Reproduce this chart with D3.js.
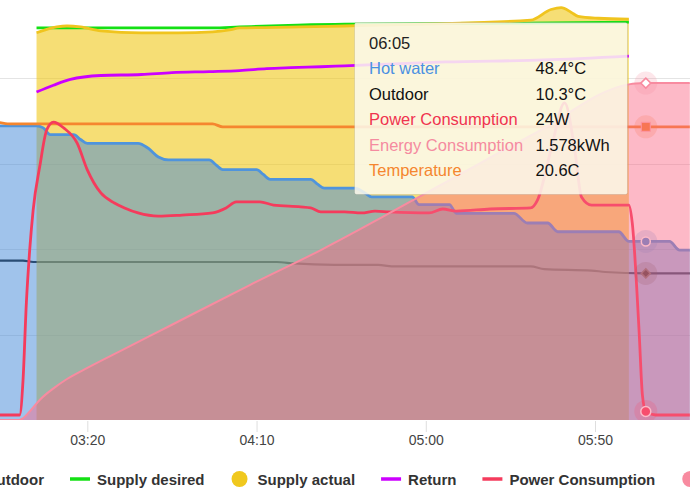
<!DOCTYPE html>
<html><head><meta charset="utf-8">
<script src="https://cdn.jsdelivr.net/npm/d3@7"></script>
<style>
html,body{margin:0;padding:0;background:#fff;}
svg{display:block;font-family:"Liberation Sans",Arial,Helvetica,sans-serif;}
</style></head><body>
<svg id="c" width="690" height="496"></svg>
<script>
// ---------- DATA ----------
const hotWater = [["02:54",60.3],["03:05",60.3],["03:07",60.1],["03:09",59.4],["03:16",59.4],["03:18",58.9],["03:20",58.5],["03:35",58.5],["03:38",58.0],["03:41",57.1],["03:44",56.8],["03:56",56.8],["03:58",56.3],["04:00",55.8],["04:10",55.8],["04:12",55.3],["04:14",54.8],["04:26",54.8],["04:28",54.3],["04:30",53.9],["04:39",53.9],["04:42",53.4],["04:44",53.0],["04:56",53.0],["04:58",52.2],["05:07",52.2],["05:09",51.3],["05:26",51.3],["05:30",50.3],["05:36",50.3],["05:39",49.4],["05:57",49.4],["06:00",48.4],["06:05",48.4],["06:12",48.4],["06:15",47.5],["06:18",47.5]];
const outdoor = [["02:54",11.2],["03:01",11.2],["03:04",11.1],["04:16",11.1],["04:21",11.0],["04:33",10.9],["04:46",10.9],["04:50",10.8],["05:31",10.8],["05:35",10.6],["05:49",10.5],["05:53",10.4],["06:05",10.3],["06:18",10.3]];
const supplyDesired = [["03:05",70.4],["03:57",70.4],["04:05",70.5],["04:22",70.7],["04:36",70.8],["05:30",70.9],["06:00",71.0]];
const supplyActual = [["03:05",69.9],["03:11",70.5],["03:14",70.6],["03:18",70.5],["03:24",70.1],["03:36",69.9],["03:47",69.9],["03:57",70.0],["04:02",70.2],["04:05",70.4],["04:23",70.5],["04:36",70.6],["05:00",70.8],["05:31",71.2],["05:37",72.3],["05:40",72.5],["05:43",72.0],["05:45",71.6],["05:51",71.4],["06:00",71.3]];
const returnTemp = [["03:05",63.8],["03:10",64.5],["03:15",65.1],["03:24",65.5],["03:36",65.6],["03:45",65.8],["03:56",65.9],["04:05",66.0],["04:13",66.2],["04:20",66.3],["04:29",66.4],["04:36",66.5],["05:06",66.9],["05:35",67.1],["06:00",67.5]];
const power = [["02:54",14],["03:00",14],["03:01",110],["03:02",330],["03:03",480],["03:04",590],["03:06",715],["03:08",815],["03:10",837],["03:13",821],["03:17",778],["03:20",703],["03:24",638],["03:28",610],["03:31",596],["03:35",582],["03:41",573],["03:48",576],["03:57",582],["04:01",596],["04:04",613],["04:11",613],["04:15",604],["04:23",599],["04:26",596],["04:29",585],["04:36",585],["04:41",582],["04:45",587],["04:49",585],["05:01",582],["05:05",593],["05:09",587],["05:19",593],["05:31",596],["05:33",618],["05:37",760],["05:41",891],["05:44",760],["05:46",627],["05:49",604],["06:00",604],["06:01",554],["06:03",253],["06:04",70],["06:05",24],["06:08",14],["06:18",14]];
const energy = [["02:54",0],["03:00",0],["03:01",0.008],["03:03",0.04],["03:06",0.095],["03:10",0.148],["03:14",0.192],["03:20",0.244],["03:30",0.325],["03:44",0.438],["04:08",0.632],["04:29",0.796],["05:07",1.124],["05:33",1.35],["06:00",1.572],["06:02",1.576],["06:05",1.578],["06:18",1.579]];
const temperature = [["02:54",20.9],["02:57",20.8],["03:57",20.8],["04:00",20.6],["06:05",20.6],["06:18",20.6]];

const xTickLabels = ["03:20","04:10","05:00","05:50"];
const gridTicks = [0,6,12,18,24];
const hoverTime = "06:05";
const legendItems = [
  ["Hot water","circle","#4f94dc"],["Outdoor","line","#111111"],["Supply desired","line","#14e014"],
  ["Supply actual","circle","#f0c81e"],["Return","line","#cc00ff"],["Power Consumption","line","#f53b5c"],
  ["Energy Consumption","circle","#f88ba0"],["Temperature","line","#f5862f"]];

// ---------- SETUP ----------
const parse = s => { const [h,m] = s.split(":").map(Number); return new Date(2023,0,1,h,m); };
const svg = d3.select("#c");
const W = 690, plotTop = -7, plotBottom = 420;
const x = d3.scaleTime().domain([parse("02:54"), parse("06:18")]).range([-0.7, 689.8]);
const yWater = d3.scaleLinear().domain([30,74]).range([plotBottom, plotTop]);
const yTemp = d3.scaleLinear().domain([0,30]).range([plotBottom, plotTop]);
const yPower = d3.scaleLinear().domain([0,1200]).range([plotBottom, plotTop]);
const yEnergy = d3.scaleLinear().domain([0,2]).range([plotBottom, plotTop]);

const C = {blue:"#4f94dc", out:"#111111", green:"#14e014", gold:"#f0c41e", purple:"#cc00ff",
  red:"#f53b5c", pink:"#f88ba0", orange:"#f5862f"};

svg.append("defs").append("clipPath").attr("id","plot").append("rect")
  .attr("x",0).attr("y",plotTop).attr("width",W).attr("height",plotBottom-plotTop);

const plot = svg.append("g").attr("clip-path","url(#plot)");

const lineFor = ys => d3.line().x(d=>x(parse(d[0]))).y(d=>ys(d[1])).curve(d3.curveMonotoneX);
const areaFor = ys => d3.area().x(d=>x(parse(d[0]))).y0(plotBottom).y1(d=>ys(d[1])).curve(d3.curveMonotoneX);

// grid
plot.append("g").selectAll("line").data(gridTicks).join("line")
  .attr("x1",0).attr("x2",W).attr("y1",d=>Math.round(yTemp(d))+0.5).attr("y2",d=>Math.round(yTemp(d))+0.5)
  .attr("stroke","#e4e4e4").attr("stroke-width",1);

function drawLine(g, data, ys, color, w){
  g.append("path").attr("d", lineFor(ys)(data)).attr("fill","none")
   .attr("stroke",color).attr("stroke-width",w).attr("stroke-linejoin","round");
}
function drawArea(g, data, ys, fill){
  g.append("path").attr("d", areaFor(ys)(data)).attr("fill",fill).attr("stroke","none");
}
const hx = x(parse(hoverTime));
const valAt = (data) => { const r = data.find(d=>d[0]===hoverTime); return r ? r[1] : null; };

function halo(g, y, color){
  g.append("circle").attr("cx",hx).attr("cy",y).attr("r",11.5).attr("fill",color).attr("fill-opacity",0.22);
}
function diamond(g, y, r, fill, stroke){
  g.append("path").attr("d",`M${hx},${y-r}L${hx+r},${y}L${hx},${y+r}L${hx-r},${y}Z`)
    .attr("fill",fill).attr("stroke",stroke).attr("stroke-width",1.5);
}

// bottom layer: outdoor line
drawLine(plot, outdoor, yTemp, C.out, 2.2);
// fills
drawArea(plot, supplyActual, yWater, "rgba(240,200,25,0.6)");
drawArea(plot, hotWater, yWater, "rgba(65,135,215,0.5)");
// lines under energy fill
drawLine(plot, hotWater, yWater, C.blue, 2.8);
drawLine(plot, temperature, yTemp, C.orange, 2.8);
drawLine(plot, power, yPower, C.red, 2.8);
// hover markers under energy fill
halo(plot, yWater(valAt(hotWater)), C.blue);
plot.append("circle").attr("cx",hx).attr("cy",yWater(valAt(hotWater))).attr("r",4.5).attr("fill",C.blue).attr("stroke","#fff").attr("stroke-width",1.5);
halo(plot, yTemp(valAt(outdoor)), "#555");
diamond(plot, yTemp(valAt(outdoor)), 4.5, "#444", "#777");
halo(plot, yTemp(valAt(temperature)), C.orange);
plot.append("rect").attr("x",hx-4.5).attr("y",yTemp(valAt(temperature))-4.5).attr("width",9).attr("height",9).attr("fill",C.orange).attr("stroke","#fbb").attr("stroke-width",1);
halo(plot, yPower(valAt(power)), C.red);
plot.append("circle").attr("cx",hx).attr("cy",yPower(valAt(power))).attr("r",5).attr("fill",C.red).attr("stroke","#fff").attr("stroke-width",1.5);
// energy fill
drawArea(plot, energy, yEnergy, "rgba(250,100,130,0.45)");
// top lines
drawLine(plot, supplyDesired, yWater, C.green, 2.8);
drawLine(plot, supplyActual, yWater, C.gold, 2.8);
drawLine(plot, returnTemp, yWater, C.purple, 2.8);
drawLine(plot, energy, yEnergy, C.pink, 2);
halo(plot, yEnergy(valAt(energy)), C.pink);
diamond(plot, yEnergy(valAt(energy)), 5, "#fff", C.pink);

// x axis
const xAxis = d3.axisBottom(x).tickValues(xTickLabels.map(parse)).tickFormat(d3.timeFormat("%H:%M"))
  .tickSize(11).tickPadding(3);
const ax = svg.append("g").attr("transform",`translate(0,${plotBottom+1})`).call(xAxis);
ax.select(".domain").remove();
ax.selectAll(".tick line").attr("stroke","#dedede");
ax.selectAll(".tick text").attr("fill","#444").style("font-size","14px").style("font-family",'"Liberation Sans",Arial,sans-serif');

// legend
const leg = svg.append("g");
const lgY = 479, gapAfter = 26, boxW = 20, boxGap = 7;
const widths = legendItems.map(it => {
  const t = leg.append("text").style("font-size","15px").style("font-weight","bold").text(it[0]);
  const w = t.node().getComputedTextLength(); t.remove(); return w; });
const anchorIdx = 2, anchorX = 70;
let starts = []; let pos = anchorX;
starts[anchorIdx] = anchorX;
for (let i = anchorIdx-1; i >= 0; i--) { pos = pos - gapAfter - widths[i] - boxGap - boxW; starts[i] = pos; }
pos = anchorX;
for (let i = anchorIdx+1; i < legendItems.length; i++) { pos = pos + boxW + boxGap + widths[i-1] + gapAfter; starts[i] = pos; }
legendItems.forEach((it,i) => {
  const sx = starts[i];
  if (it[1] === "line") leg.append("line").attr("x1",sx).attr("x2",sx+boxW).attr("y1",lgY).attr("y2",lgY).attr("stroke",it[2]).attr("stroke-width",3.5);
  else leg.append("circle").attr("cx",sx+9).attr("cy",lgY).attr("r",8).attr("fill",it[2]);
  leg.append("text").attr("x",sx+boxW+boxGap).attr("y",lgY+5.5).attr("fill","#333")
    .style("font-size","15px").style("font-weight","bold").text(it[0]);
});

// tooltip
const tip = svg.append("g");
tip.append("rect").attr("x",354.5).attr("y",22.5).attr("width",273).attr("height",172).attr("rx",2)
  .attr("fill","rgba(251,249,238,0.86)").attr("stroke","rgba(0,0,0,0.09)");
const tRows = [
  ["Hot water", "#4a90e2", valAt(hotWater).toFixed(1)+"°C"],
  ["Outdoor", "#111111", valAt(outdoor).toFixed(1)+"°C"],
  ["Power Consumption", "#f0334f", valAt(power)+"W"],
  ["Energy Consumption", "#f58ba0", valAt(energy).toFixed(3)+"kWh"],
  ["Temperature", "#f5862f", valAt(temperature).toFixed(1)+"C"]];
tip.append("text").attr("x",369).attr("y",48.5).attr("fill","#222").style("font-size","16.5px").text(hoverTime);
tRows.forEach((r,i) => {
  const by = 74.2 + i*25.55;
  tip.append("text").attr("x",369).attr("y",by).attr("fill",r[1]).style("font-size","16.5px").text(r[0]);
  tip.append("text").attr("x",535.5).attr("y",by).attr("fill","#111").style("font-size","16.5px").text(r[2]);
});
</script>
</body></html>
